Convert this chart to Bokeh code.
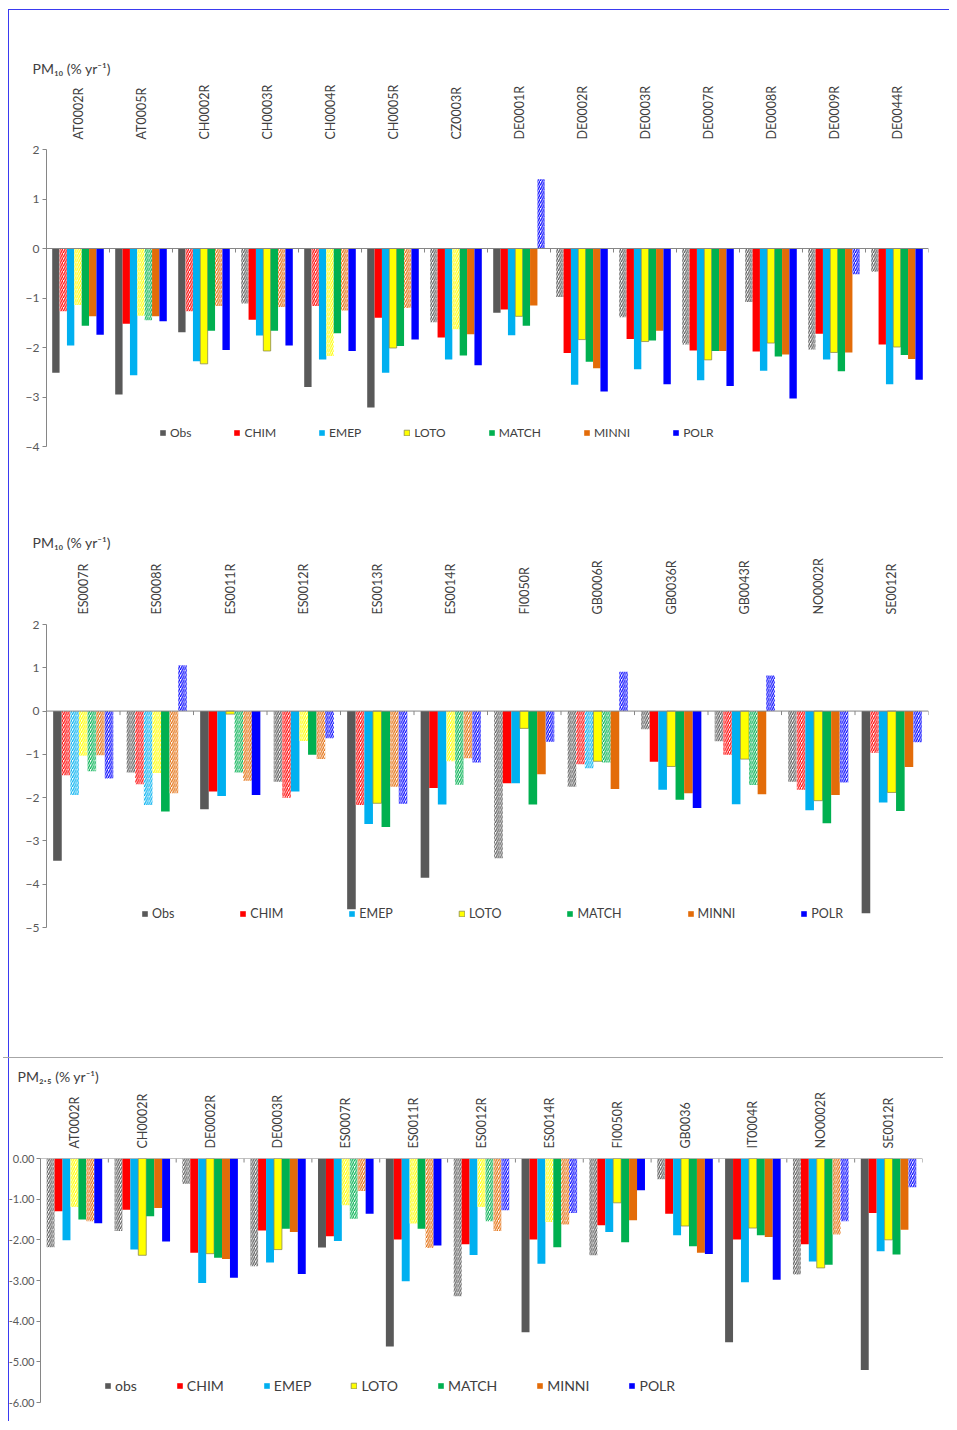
import math
from bokeh.plotting import figure
from bokeh.layouts import column
from bokeh.models import (ColumnDataSource, FixedTicker, Span, Legend, LegendItem,
                          Range1d, NumeralTickFormatter)
from bokeh.embed import file_html
from bokeh.resources import INLINE

# ---------------- data ----------------
MODELS = ["Obs", "CHIM", "EMEP", "LOTO", "MATCH", "MINNI", "POLR"]
COLORS = ["#595959", "#ff0000", "#00b0f0", "#ffff00", "#00b050", "#e36c09", "#0000ff"]
LABELS_PM10 = ["Obs", "CHIM", "EMEP", "LOTO", "MATCH", "MINNI", "POLR"]
LABELS_PM25 = ["obs", "CHIM", "EMEP", "LOTO", "MATCH", "MINNI", "POLR"]

# Panel 1: PM10
P1_STATIONS = ["AT0002R", "AT0005R", "CH0002R", "CH0003R", "CH0004R", "CH0005R", "CZ0003R",
               "DE0001R", "DE0002R", "DE0003R", "DE0007R", "DE0008R", "DE0009R", "DE0044R"]
P1_OBS = [-2.51, -2.95, -1.69, -1.11, -2.80, -3.21, -1.49, -1.30, -0.98, -1.39, -1.94, -1.08, -2.04, -0.47]
P1_CHIM = [-1.27, -1.52, -1.27, -1.44, -1.16, -1.40, -1.80, -1.23, -2.11, -1.83, -2.06, -2.08, -1.72, -1.94]
P1_EMEP = [-1.96, -2.56, -2.28, -1.76, -2.24, -2.51, -2.24, -1.75, -2.75, -2.44, -2.66, -2.47, -2.24, -2.74]
P1_LOTO = [-1.14, -1.36, -2.33, -2.07, -2.17, -2.01, -1.63, -1.37, -1.84, -1.88, -2.25, -1.91, -2.10, -1.99]
P1_MATCH = [-1.56, -1.45, -1.66, -1.66, -1.71, -1.97, -2.16, -1.56, -2.29, -1.86, -2.07, -2.18, -2.48, -2.15]
P1_MINNI = [-1.37, -1.37, -1.16, -1.18, -1.25, -1.20, -1.73, -1.15, -2.42, -1.66, -2.07, -2.14, -2.10, -2.23]
P1_POLR = [-1.74, -1.47, -2.05, -1.96, -2.07, -1.84, -2.36, 1.40, -2.89, -2.74, -2.78, -3.03, -0.52, -2.65]
# 1 = hatched (non-significant), per station, order Obs..POLR
P1_HATCH = ["0101000", "0001100", "0100010", "1000010", "0101010", "0000010", "1001000",
            "0000001", "1000000", "1000000", "1000000", "1000000", "1000001", "1000000"]
P1_YTICKS = [-4, -3, -2, -1, 0, 1, 2]

# Panel 2: PM10
P2_STATIONS = ["ES0007R", "ES0008R", "ES0011R", "ES0012R", "ES0013R", "ES0014R",
               "FI0050R", "GB0006R", "GB0036R", "GB0043R", "NO0002R", "SE0012R"]
P2_OBS = [-3.46, -1.42, -2.27, -1.63, -4.58, -3.85, -3.40, -1.75, -0.42, -0.70, -1.63, -4.67]
P2_CHIM = [-1.48, -1.69, -1.86, -2.00, -2.17, -1.78, -1.67, -1.23, -1.17, -1.01, -1.82, -0.96]
P2_EMEP = [-1.94, -2.17, -1.96, -1.86, -2.61, -2.16, -1.67, -1.32, -1.82, -2.15, -2.29, -2.11]
P2_LOTO = [-1.03, -1.43, -0.07, -0.69, -2.13, -1.16, -0.40, -1.16, -1.28, -1.11, -2.07, -1.88]
P2_MATCH = [-1.39, -2.32, -1.42, -1.01, -2.68, -1.70, -2.16, -1.19, -2.05, -1.71, -2.59, -2.31]
P2_MINNI = [-1.02, -1.90, -1.61, -1.11, -1.75, -1.09, -1.46, -1.80, -1.90, -1.92, -1.94, -1.29]
P2_POLR = [-1.56, 1.06, -1.94, -0.63, -2.14, -1.19, -0.71, 0.91, -2.24, 0.82, -1.65, -0.72]
P2_HATCH = ["0111111", "1111011", "0000110", "1101011", "0100011", "0001111",
            "1000001", "1110101", "1000000", "1100101", "1100001", "0100001"]
P2_YTICKS = [-5, -4, -3, -2, -1, 0, 1, 2]

# Panel 3: PM2.5
P3_STATIONS = ["AT0002R", "CH0002R", "DE0002R", "DE0003R", "ES0007R", "ES0011R", "ES0012R",
               "ES0014R", "FI0050R", "GB0036", "IT0004R", "NO0002R", "SE0012R"]
P3_OBS = [-2.18, -1.78, -0.62, -2.65, -2.19, -4.62, -3.39, -4.27, -2.38, -0.51, -4.52, -2.85, -5.20]
P3_CHIM = [-1.30, -1.26, -2.32, -1.77, -1.91, -1.99, -2.11, -1.99, -1.64, -1.36, -1.99, -2.11, -1.34]
P3_EMEP = [-2.01, -2.24, -3.06, -2.56, -2.03, -3.02, -2.37, -2.59, -1.81, -1.89, -3.04, -2.53, -2.28]
P3_LOTO = [-1.19, -2.38, -2.34, -2.24, -1.15, -1.60, -1.19, -1.56, -1.09, -1.66, -1.71, -2.69, -2.00]
P3_MATCH = [-1.50, -1.42, -2.44, -1.73, -1.48, -1.73, -1.54, -2.18, -2.06, -2.16, -1.89, -2.61, -2.36]
P3_MINNI = [-1.54, -1.22, -2.47, -1.81, -0.80, -2.20, -1.78, -1.62, -1.52, -2.32, -1.93, -1.87, -1.75]
P3_POLR = [-1.59, -2.04, -2.93, -2.84, -1.36, -2.14, -1.27, -1.34, -0.78, -2.35, -2.98, -1.54, -0.71]
P3_HATCH = ["1001010", "1000000", "1000000", "1000000", "0001110", "0001010", "1001111",
            "0001011", "1000000", "1000000", "0000000", "1000011", "0000001"]
P3_YTICKS = [-6, -5, -4, -3, -2, -1, 0]

# ---------------- styling ----------------
FONT = "Lato"
TXT = "#404040"
AXC = "#868686"
BW = 0.117
LB, RB = 37, 21  # common left / right borders (column aligns plot frames)


def make_panel(title, stations, series, hatch, yticks, labels, height,
               tb, title_offset, legend_loc, legend_spacing, legend_fs,
               ylab_fs="12px", ylab_standoff=3, yfmt=None):
    t, b = tb
    n = len(stations)
    ylo, yhi = min(yticks), max(yticks)
    frame_h = height - t - b
    p = figure(width=940, height=height, x_range=Range1d(-0.5, n - 0.5),
               y_range=Range1d(ylo, yhi), output_backend="svg", toolbar_location=None,
               x_axis_location="above", min_border_left=LB, min_border_right=RB,
               min_border_top=t, min_border_bottom=b, title=title)
    p.outline_line_color = None
    p.xgrid.visible = False
    p.ygrid.visible = False
    p.background_fill_color = "white"
    p.border_fill_color = "white"

    p.title.text_font = FONT
    p.title.text_font_size = "14px"
    p.title.text_font_style = "normal"
    p.title.text_color = TXT
    p.title.align = "left"
    p.title.offset = title_offset
    p.title.standoff = 9

    xa = p.xaxis[0]
    xa.ticker = FixedTicker(ticks=list(range(n)))
    xa.major_label_overrides = {i: s for i, s in enumerate(stations)}
    xa.major_label_orientation = math.pi / 2
    xa.axis_line_color = None
    xa.major_tick_line_color = None
    xa.minor_tick_line_color = None
    xa.major_label_text_font = FONT
    xa.major_label_text_font_size = "12.5px"
    xa.major_label_text_color = TXT
    xa.major_label_standoff = 4

    ya = p.yaxis[0]
    ya.ticker = FixedTicker(ticks=yticks)
    if yfmt is not None:
        ya.formatter = yfmt
    ya.axis_line_color = AXC
    ya.major_tick_line_color = AXC
    ya.major_tick_out = 4
    ya.major_tick_in = 0
    ya.minor_tick_line_color = None
    ya.major_label_text_font = FONT
    ya.major_label_text_font_size = ylab_fs
    ya.major_label_text_color = "#595959"
    ya.major_label_standoff = ylab_standoff

    # zero line with category-boundary tick marks
    p.add_layout(Span(location=0, dimension="width", line_color=AXC, line_width=1))
    tick_len = 4.0 * (yhi - ylo) / frame_h
    bx = [i - 0.5 for i in range(n + 1)]
    p.segment(x0=bx, y0=[0] * len(bx), x1=bx, y1=[-tick_len] * len(bx),
              line_color=AXC, line_width=1)

    items = []
    for j, (vals, color) in enumerate(zip(series, COLORS)):
        xs = [i + (j - 3) * BW for i in range(n)]
        sol = [k for k in range(n) if hatch[k][j] == "0"]
        hat = [k for k in range(n) if hatch[k][j] == "1"]
        lc = "#8c8c50" if j == 3 else None
        src_s = ColumnDataSource(dict(x=[xs[k] for k in sol], top=[vals[k] for k in sol]))
        rs = p.vbar(x="x", top="top", bottom=0, width=BW, source=src_s,
                    fill_color=color, line_color=lc, line_width=0.8)
        src_h = ColumnDataSource(dict(x=[xs[k] for k in hat], top=[vals[k] for k in hat]))
        p.vbar(x="x", top="top", bottom=0, width=BW, source=src_h,
               fill_color="white", line_color=None,
               hatch_pattern="/", hatch_color=color, hatch_scale=4.5, hatch_weight=1.2)
        items.append(LegendItem(label=labels[j], renderers=[rs]))

    leg = Legend(items=items, orientation="horizontal", location=legend_loc,
                 glyph_width=7, glyph_height=7, label_standoff=4, spacing=legend_spacing,
                 padding=0, margin=0, border_line_color=None, background_fill_alpha=0,
                 label_text_font=FONT, label_text_font_size=legend_fs,
                 label_text_color=TXT, label_height=16)
    p.add_layout(leg)
    return p


p1 = make_panel("PM₁₀ (% yr⁻¹)", P1_STATIONS,
                [P1_OBS, P1_CHIM, P1_EMEP, P1_LOTO, P1_MATCH, P1_MINNI, P1_POLR],
                P1_HATCH, P1_YTICKS, LABELS_PM10, 498, (139, 62), -14,
                (113, 6), 42, "12px")
p2 = make_panel("PM₁₀ (% yr⁻¹)", P2_STATIONS,
                [P2_OBS, P2_CHIM, P2_EMEP, P2_LOTO, P2_MATCH, P2_MINNI, P2_POLR],
                P2_HATCH, P2_YTICKS, LABELS_PM10, 549, (116, 130), -14,
                (95, 6), 65, "12.5px")
p3 = make_panel("PM₂.₅ (% yr⁻¹)", P3_STATIONS,
                [P3_OBS, P3_CHIM, P3_EMEP, P3_LOTO, P3_MATCH, P3_MINNI, P3_POLR],
                P3_HATCH, P3_YTICKS, LABELS_PM25, 364, (100, 20), -23,
                (64, 8), 39, "14px", ylab_fs="11px", ylab_standoff=2,
                yfmt=NumeralTickFormatter(format="0.00"))
p3.margin = (0, 0, 0, -6)
p3.border_fill_alpha = 0
p3.styles = {"border-top": "1px solid #a6a6a6"}

layout = column(p1, p2, p3,
                styles={"margin-left": "8px", "margin-top": "9px",
                        "border-left": "1px solid #3a3af0", "border-top": "1px solid #3a3af0"})

with open("out.html", "w") as f:
    f.write(file_html(layout, INLINE))
